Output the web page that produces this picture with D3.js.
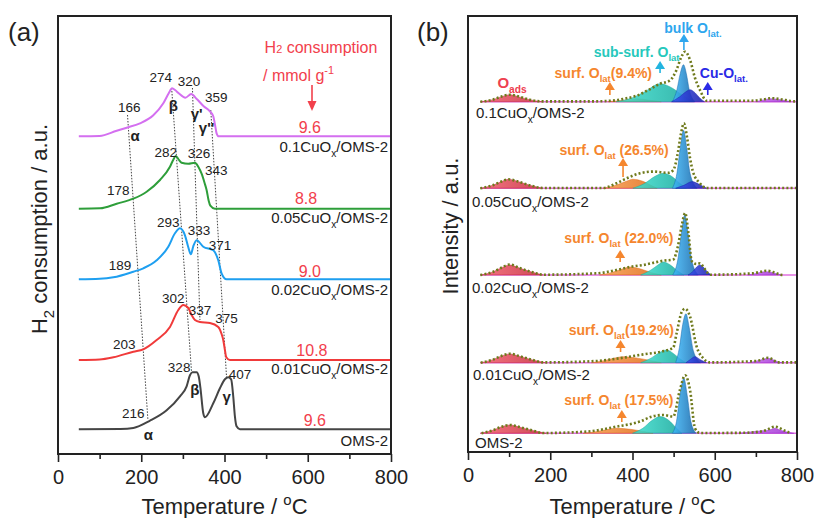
<!DOCTYPE html>
<html>
<head>
<meta charset="utf-8">
<script src="https://cdn.jsdelivr.net/npm/d3@7"></script>
<style>
  body { margin: 0; background: #fff; }
  svg { display: block; font-family: "Liberation Sans", Arial, sans-serif; }
</style>
</head>
<body>
<svg id="chart"></svg>
<script>
// ---------- DATA (a): H2-TPR, [temperature °C, signal a.u.] ----------
const tprSamples = ["0.1CuOx/OMS-2", "0.05CuOx/OMS-2", "0.02CuOx/OMS-2", "0.01CuOx/OMS-2", "OMS-2"];

const tpr01 = [[50,0],[100,0.3],[141,5.6],[165,8.6],[197,13],[229,21],[253,33],[266,43],[274,48],[282,46],[290,43],[306,38.6],[320,42.3],[334,37],[350,30],[365,25],[373,20],[377,12],[381,3],[386,0],[800,0]];
const tpr005 = [[50,0],[101,0.4],[141,5],[181,10],[213,17],[245,28.7],[269,42],[277,49],[283,52.7],[290,49],[297,46],[313,45],[329,46],[337,42],[345,35],[352,26],[357,18.7],[362,8],[366,3],[377,0],[800,0]];
const tpr002 = [[50,0],[100,0.5],[133,2],[181,7.6],[205,11],[237,19],[265,32.6],[281,46],[293,51],[305,44],[313,32],[319,25],[325,33],[333,39],[349,32.6],[373,29],[385,19],[393,6],[405,0],[800,0]];
const tpr001 = [[50,0],[100,0.5],[133,2.7],[181,8.3],[205,10.7],[237,20],[269,33],[289,50],[301,55],[313,52],[321,45],[329,40],[341,38],[365,37],[385,33],[393,26],[397,20],[401,10],[404,3],[413,0],[800,0]];
const tprOMS = [[50,0],[150,0.3],[181,1.3],[221,8.6],[261,19],[293,33],[309,43],[317,54],[323,57],[333,57],[338,53],[342,42],[349,16],[353,12],[373,26],[389,41],[401,50],[409,52],[416,50],[421,33],[425,13],[429,3],[437,0],[800,0]];

// H2 consumption / mmol g-1
const h2Uptake = [9.6, 8.8, 9.0, 10.8, 9.6];

// peak temperatures written on the curves
const peakTemps = [[166, 274, 320, 359], [178, 282, 326, 343], [189, 293, 333, 371], [203, 302, 337, 375], [216, 328, 407]];

// dotted guides: [temperature at top, temperature at bottom]
const guideTemps = [[167, 216], [273, 321], [323, 341], [367, 405]];

// ---------- DATA (b): O2-TPD fit, [temperature °C, signal a.u.] ----------
const tpdOads = [
  [[30,0],[60,2],[80,4.8],[102,7],[125,4.8],[150,2],[180,0]],
  [[30,0],[60,3],[80,6.5],[98,9],[120,7],[150,3],[182,0]],
  [[30,0],[60,3],[80,7],[102,10],[125,7],[155,3],[183,0]],
  [[30,0],[60,3],[80,6.5],[102,8.7],[125,6.5],[155,3],[188,0]],
  [[30,0],[60,3],[80,6.3],[102,8.3],[125,6.3],[155,3],[190,0]]
];
const tpdSurf = [
  [[340,0],[380,1.5],[410,3],[440,1.5],[470,0]],
  [[328,0],[360,3],[385,7],[401,9],[425,7],[445,3],[460,0]],
  [[320,0],[350,2.5],[375,6],[394,8],[420,6],[445,2.5],[470,0]],
  [[300,0],[330,2],[355,4.5],[378,6],[405,5],[440,2.5],[470,0]],
  [[280,0],[310,1.5],[335,3.5],[361,5],[395,4],[425,2],[450,0]]
];
const tpdSub = [
  [[360,0],[400,4],[430,10],[467,18],[495,14],[520,7],[548,0]],
  [[401,0],[430,5],[455,12],[475,15],[495,12],[515,5],[531,0]],
  [[420,0],[445,5],[462,10],[475,13],[492,10],[510,4],[525,0]],
  [[420,0],[445,4.5],[465,10],[483,12.7],[500,9],[515,4],[530,0]],
  [[400,0],[425,5],[448,13],[467,16.7],[488,13],[505,6],[520,0]]
];
const tpdBulk = [
  [[497,0],[508,12],[516,28],[524,37],[531,28],[538,12],[552,0]],
  [[497,0],[508,15],[516,40],[524,58],[532,40],[540,15],[557,0]],
  [[498,0],[510,15],[519,42],[527,60],[535,42],[544,15],[560,0]],
  [[505,0],[514,15],[522,38],[530,49],[538,35],[548,12],[565,0]],
  [[497,0],[507,12],[516,40],[525,55],[533,38],[542,12],[555,0]]
];
const tpdCuO = [
  [[495,0],[515,5],[530,10],[540,12],[552,9],[563,4],[575,0]],
  [[505,0],[525,3],[545,6.7],[562,4],[580,0]],
  [[535,0],[548,4],[556,8],[564,10],[572,8],[580,4],[592,0]],
  [[530,0],[540,3],[552,6],[565,3],[580,0]],
  null
];
const tpdHigh = [
  [[700,0],[720,2],[738,3],[760,2],[785,0]],
  null,
  [[680,0],[700,1.5],[715,3],[726,3.3],[740,2.5],[752,1],[762,0]],
  [[680,0],[700,1.5],[718,3.5],[730,4.4],[742,3],[752,1],[765,0]],
  [[660,0],[690,1.5],[715,2.5],[735,3.5],[746,5],[760,3],[778,1],[792,0]]
];
const tpdEnvelope = [
  [[30,0],[60,2],[80,5],[102,7],[125,5],[150,2],[180,0.3],[300,0.3],[350,1],[380,3],[410,6],[440,12],[467,18],[490,21],[507,31.7],[518,44],[528,50],[540,41.7],[552,23.7],[564,11.7],[580,1],[690,1],[720,2.5],[738,3.5],[760,2.5],[790,0.5],[800,0.3]],
  [[30,0],[60,3],[80,6.5],[98,9],[120,7],[150,3],[182,0.3],[328,0.3],[361,5],[386,10],[418,15],[450,16.7],[486,15.5],[499,18],[510,35],[518,55],[525,65],[533,50],[540,30],[547,16.7],[564,5],[580,0.3],[800,0.3]],
  [[30,0],[60,3],[80,7],[102,10.5],[125,7],[155,3],[183,0.3],[313,1.7],[361,5],[400,8.5],[426,10],[475,14.3],[499,15.5],[510,28],[520,50],[528,62],[536,42],[544,14],[556,11],[564,11.7],[574,7],[584,1.7],[592,0.3],[694,1.7],[712,3.3],[726,4.3],[745,2.5],[760,0.3],[767,0]],
  [[31,0],[60,3],[80,6.5],[102,9],[125,6.5],[155,3],[183,0.3],[313,1.7],[361,4],[426,8.3],[475,11.6],[499,15],[507,29],[520,51],[528,54],[540,46],[556,16],[572,4.4],[588,0.3],[702,1.7],[730,5],[742,3],[752,0.3],[800,0.3]],
  [[33,0],[60,3],[80,6.3],[102,8.3],[125,6.3],[155,3],[183,0.3],[289,1.7],[361,6.7],[418,11.7],[447,16.7],[475,18.3],[499,16.7],[515,43],[528,58],[540,43],[552,5],[564,0.3],[669,0.5],[710,1.7],[726,3.3],[746,6.7],[767,3.3],[783,0.3]]
];
// share of surface lattice oxygen, %
const surfShare = [9.4, 26.5, 22.0, 19.2, 17.5];

// ---------- LAYOUT ----------
const W = 815, H = 518;
const svg = d3.select("#chart").attr("width", W).attr("height", H);

const xa = d3.scaleLinear([0, 800], [58, 391]);
const ya = d3.scaleLinear([0, 438], [454, 16]);
const xb = d3.scaleLinear([0, 800], [468, 797]);
const yb = d3.scaleLinear([0, 436], [452, 16]);

const tprCurves = [tpr01, tpr005, tpr002, tpr001, tprOMS];
const tprOffset = [317.7, 245.3, 174.7, 94, 24.7];
const tprColor = ["#d46ff0", "#2e9e3a", "#1e9ff0", "#f03a3a", "#454545"];
const tpdOffset = [350.3, 263.7, 177, 89.3, 18.7];

const TEXT = "#222";
const RED = "#f2404c";

// text with sub/superscript parts: [string, ""|"sub"|"sup"|"small"]
function rich(text, parts, size) {
  let shift = 0;
  parts.forEach(([s, k]) => {
    const target = k === "sub" ? size * 0.3 : k === "sup" ? -size * 0.42 : 0;
    text.append("tspan")
      .attr("dy", target - shift)
      .attr("font-size", k ? size * 0.68 : size)
      .text(s);
    shift = target;
  });
  return text;
}

function sampleParts(name) {
  const i = name.indexOf("CuOx");
  if (i < 0) return [[name, ""]];
  return [[name.slice(0, i + 3), ""], ["x", "sub"], [name.slice(i + 4), ""]];
}

function arrowUp(g, x, yTail, yHead, color, w = 5, hLen = 8) {
  g.append("line")
    .attr("x1", x).attr("x2", x)
    .attr("y1", yTail).attr("y2", yHead + hLen - 1)
    .attr("stroke", color).attr("stroke-width", 1.6);
  g.append("path")
    .attr("d", `M${x - w},${yHead + hLen}L${x},${yHead}L${x + w},${yHead + hLen}Z`)
    .attr("fill", color);
}

function frameAndAxis(x, yScale) {
  const [l, r] = x.range();
  const [b, t] = yScale.range();
  svg.append("g")
    .attr("transform", `translate(0,${b})`)
    .call(d3.axisBottom(x).tickValues([100, 300, 500, 700]).tickSize(5).tickFormat(""))
    .call((g) => g.select(".domain").remove())
    .call((g) => g.selectAll("line").attr("stroke", TEXT).attr("stroke-width", 1.6));
  svg.append("g")
    .attr("transform", `translate(0,${b})`)
    .call(d3.axisBottom(x).tickValues([0, 200, 400, 600, 800]).tickSize(8).tickPadding(8).tickFormat(d3.format("d")))
    .call((g) => g.select(".domain").remove())
    .call((g) => g.selectAll("line").attr("stroke", TEXT).attr("stroke-width", 1.6))
    .call((g) => g.selectAll("text").attr("font-size", 20).attr("fill", TEXT)
      .attr("font-family", "Liberation Sans, Arial, sans-serif"));
  svg.append("rect")
    .attr("x", l).attr("y", t)
    .attr("width", r - l).attr("height", b - t)
    .attr("fill", "none").attr("stroke", TEXT).attr("stroke-width", 2);
  const title = svg.append("text")
    .attr("x", (l + r) / 2).attr("y", 514)
    .attr("text-anchor", "middle").attr("fill", TEXT);
  rich(title, [["Temperature / ", ""], ["o", "sup"], ["C", ""]], 22);
}

// ---------- PANEL (a) ----------
const ga = svg.append("g");

// dotted guides
const guideY = [[339, 34], [366, 81], [366, 134], [344, 76]];
guideTemps.forEach(([t0, t1], i) => {
  ga.append("line")
    .attr("x1", xa(t0)).attr("y1", ya(guideY[i][0]))
    .attr("x2", xa(t1)).attr("y2", ya(guideY[i][1]))
    .attr("stroke", "#444").attr("stroke-width", 1)
    .attr("stroke-dasharray", "1.5,1.5");
});

tprCurves.forEach((curve, i) => {
  const line = d3.line()
    .x((d) => xa(d[0]))
    .y((d) => ya(tprOffset[i] + d[1]))
    .curve(d3.curveMonotoneX);
  ga.append("path")
    .attr("d", line(curve))
    .attr("fill", "none")
    .attr("stroke", tprColor[i])
    .attr("stroke-width", 2);
});

frameAndAxis(xa, ya);

// peak temperature labels: [T, a.u.] anchor per value
const peakPos = [
  [[171, 347], [247, 377], [315, 373], [380, 357]],
  [[145, 264], [259, 302], [339, 301], [380, 284]],
  [[149, 189], [265, 232], [339, 224], [389, 209]],
  [[159, 110], [277, 156], [341, 144], [405, 136]],
  [[181, 41], [291, 87], [437, 80]]
];
peakTemps.forEach((row, i) => {
  row.forEach((t, j) => {
    ga.append("text")
      .attr("x", xa(peakPos[i][j][0]))
      .attr("y", ya(peakPos[i][j][1]))
      .attr("dy", "0.36em")
      .attr("text-anchor", "middle")
      .attr("font-size", 13.5)
      .attr("fill", TEXT)
      .text(t);
  });
});

const greek = [
  ["α", 185, 318], ["β", 277, 348], ["γ'", 333, 340], ["γ''", 357, 326],
  ["β", 329, 64], ["γ", 405, 57], ["α", 217, 19]
];
greek.forEach(([s, t, v]) => {
  ga.append("text")
    .attr("x", xa(t)).attr("y", ya(v))
    .attr("dy", "0.36em")
    .attr("text-anchor", "middle")
    .attr("font-size", 15)
    .attr("font-weight", "bold")
    .attr("fill", TEXT)
    .text(s);
});

// H2 uptake values
const uptakePos = [[605, 327], [596, 256], [605, 183], [610, 104], [617, 34]];
h2Uptake.forEach((v, i) => {
  ga.append("text")
    .attr("x", xa(uptakePos[i][0])).attr("y", ya(uptakePos[i][1]))
    .attr("dy", "0.36em")
    .attr("text-anchor", "middle")
    .attr("font-size", 16)
    .attr("fill", RED)
    .text(d3.format(".1f")(v));
});

// sample names
const nameA = [147, 218, 290, 369, 441];
tprSamples.forEach((s, i) => {
  const t = ga.append("text")
    .attr("x", 388).attr("y", nameA[i] + 5)
    .attr("text-anchor", "end")
    .attr("fill", TEXT);
  rich(t, sampleParts(s), 15);
});

// header in red
rich(ga.append("text").attr("x", 321).attr("y", 53).attr("text-anchor", "middle").attr("fill", RED),
  [["H", ""], ["2", "small"], [" consumption", ""]], 16);
rich(ga.append("text").attr("x", 263).attr("y", 81).attr("fill", RED),
  [["/ mmol g", ""], ["-1", "sup"]], 16);
ga.append("line").attr("x1", 312).attr("x2", 312).attr("y1", 85).attr("y2", 103)
  .attr("stroke", RED).attr("stroke-width", 1.6);
ga.append("path").attr("d", "M307.5,101L312,111L316.5,101Z").attr("fill", RED);

// y title and panel tag
rich(svg.append("text").attr("transform", "translate(47,229) rotate(-90)")
  .attr("text-anchor", "middle").attr("fill", TEXT),
  [["H", ""], ["2", "sub"], [" consumption / a.u.", ""]], 22);
svg.append("text").attr("x", 8).attr("y", 41).attr("font-size", 26).attr("fill", TEXT).text("(a)");

// ---------- PANEL (b) ----------
const gb = svg.append("g");
const defs = svg.append("defs");
const compStyle = {
  oads: ["#f26070", "#c83040"],
  surf: ["#f7a050", "#e06a18"],
  sub: ["#3fe0d0", "#18a89c"],
  bulk: ["#40b8f8", "#1565a8"],
  cuo: ["#3a50f0", "#1a20a8"],
  high: ["#d070f0", "#9a30d0"]
};
Object.entries(compStyle).forEach(([k, [c0, c1]]) => {
  const lg = defs.append("linearGradient").attr("id", "g-" + k)
    .attr("x1", 0).attr("x2", 1).attr("y1", 0).attr("y2", 0);
  lg.append("stop").attr("offset", "0%").attr("stop-color", c0);
  lg.append("stop").attr("offset", "100%").attr("stop-color", c1);
});

tpdOffset.forEach((base, i) => {
  gb.append("line")
    .attr("x1", xb(30)).attr("x2", xb(800))
    .attr("y1", yb(base)).attr("y2", yb(base))
    .attr("stroke", "#e070e0").attr("stroke-width", 1.4);

  const area = d3.area()
    .x((d) => xb(d[0]))
    .y0(yb(base))
    .y1((d) => yb(base + d[1]))
    .curve(d3.curveMonotoneX);
  const comps = [["oads", tpdOads[i]], ["surf", tpdSurf[i]], ["sub", tpdSub[i]],
    ["bulk", tpdBulk[i]], ["cuo", tpdCuO[i]], ["high", tpdHigh[i]]];
  comps.forEach(([k, pts]) => {
    if (!pts) return;
    gb.append("path")
      .attr("d", area(pts))
      .attr("fill", `url(#g-${k})`)
      .attr("fill-opacity", 0.88)
      .attr("stroke", compStyle[k][1])
      .attr("stroke-opacity", 0.6)
      .attr("stroke-width", 0.8);
  });

  const env = d3.line()
    .x((d) => xb(d[0]))
    .y((d) => yb(base + d[1]))
    .curve(d3.curveMonotoneX);
  gb.append("path")
    .attr("d", env(tpdEnvelope[i]))
    .attr("fill", "none")
    .attr("stroke", "#6f7a1c")
    .attr("stroke-width", 2.6)
    .attr("stroke-dasharray", "2,2.2");
});

frameAndAxis(xb, yb);

// sample names (b)
const nameB = [[476, 113], [472, 202], [472, 288], [473, 375], [475, 443]];
tprSamples.forEach((s, i) => {
  const t = gb.append("text")
    .attr("x", nameB[i][0]).attr("y", nameB[i][1] + 5)
    .attr("fill", TEXT);
  rich(t, sampleParts(s), 15);
});

// component annotations
function boldLabel(x, y, parts, color, size = 14) {
  const t = gb.append("text")
    .attr("x", x).attr("y", y + 5)
    .attr("text-anchor", "middle")
    .attr("font-weight", "bold")
    .attr("fill", color);
  rich(t, parts, size);
}
const C_OADS = "#ee4050", C_SURF = "#f5862e", C_SUB = "#26c8bc", C_BULK = "#2ea6ee", C_CUO = "#2a2ae6";

boldLabel(xb(107), yb(369), [["O", ""], ["ads", "sub"]], C_OADS, 15);
boldLabel(xb(410), yb(400), [["sub-surf. O", ""], ["lat", "sub"]], C_SUB);
arrowUp(gb, xb(467), yb(379), yb(391), "#22b4e0");
boldLabel(xb(547), yb(424), [["bulk O", ""], ["lat.", "sub"]], C_BULK);
arrowUp(gb, xb(525), yb(402), yb(418), C_BULK);
boldLabel(xb(622), yb(379), [["Cu-O", ""], ["lat.", "sub"]], C_CUO);
arrowUp(gb, xb(583), yb(357), yb(370), C_CUO);

const surfGap = ["", " ", " ", "", " "];
const surfPos = [[329, 379, 345, 357, 370], [355, 302, 377, 275, 294], [367, 214, 370, 190, 202],
  [373, 122, 371, 100, 112], [367, 52, 374, 30, 42]];
surfShare.forEach((v, i) => {
  const [lt, lv, at, a0, a1] = surfPos[i];
  boldLabel(xb(lt), yb(lv),
    [["surf. O", ""], ["lat", "sub"], [surfGap[i] + "(" + d3.format(".1f")(v) + "%)", ""]], C_SURF);
  arrowUp(gb, xb(at), yb(a0), yb(a1), C_SURF);
});

rich(svg.append("text").attr("transform", "translate(458,226) rotate(-90)")
  .attr("text-anchor", "middle").attr("fill", TEXT),
  [["Intensity / a.u.", ""]], 22);
svg.append("text").attr("x", 417).attr("y", 41).attr("font-size", 26).attr("fill", TEXT).text("(b)");
</script>
</body>
</html>
